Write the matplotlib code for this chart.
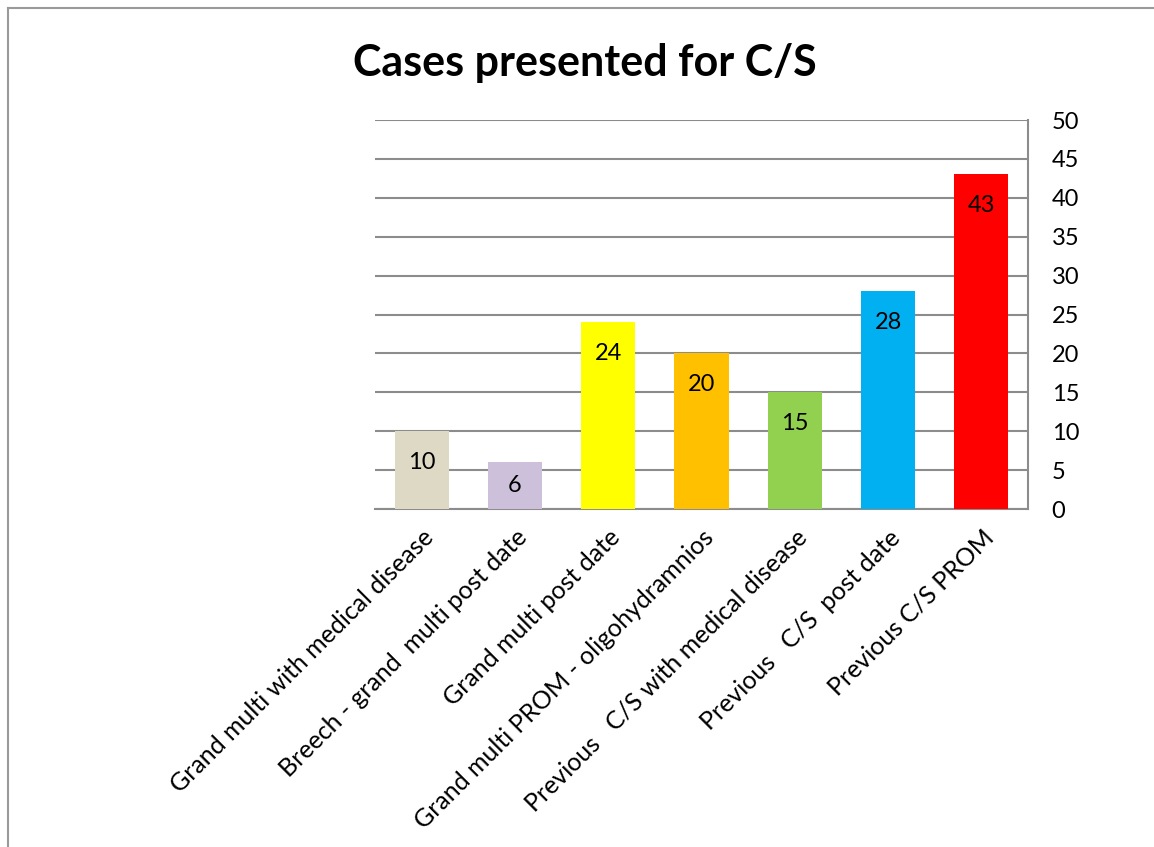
import matplotlib.pyplot as plt
from matplotlib.lines import Line2D

plt.rcParams['font.family'] = ['Lato', 'DejaVu Sans']

# data
categories = ['Grand multi with medical disease', 'Breech - grand  multi post date',
              'Grand multi post date', 'Grand multi PROM - oligohydramnios',
              'Previous   C/S with medical disease', 'Previous   C/S  post date',
              'Previous C/S PROM']
counts = [10, 6, 24, 20, 15, 28, 43]
colors = ['#DDD9C4', '#CCC0DA', '#FFFF00', '#FFC000', '#92D050', '#00B0F0', '#FF0000']
yticks = list(range(0, 51, 5))

fig = plt.figure(figsize=(11.54, 8.47), dpi=100)
W, H = 1154, 847
ax = fig.add_axes([375 / W, 1 - 509 / H, (1028 - 375) / W, (509 - 120) / H])

x = range(len(categories))
ax.bar(x, counts, width=0.58, color=colors, zorder=3)
for i, v in enumerate(counts):
    ax.text(i, max(v - 4, v / 2), str(v), ha='center', va='center', fontsize=17, zorder=4)

ax.set_xlim(-0.5, len(categories) - 0.5)
ax.set_ylim(0, 50)
ax.set_yticks(yticks)
ax.yaxis.tick_right()
ax.tick_params(axis='y', length=0, labelsize=17, pad=17)
for lab in ax.get_yticklabels():
    lab.set_horizontalalignment('left')
ax.grid(axis='y', color='#8C8C8C', linewidth=1.5, zorder=0)
ax.set_xticks(list(x))
ax.set_xticklabels(categories, rotation=45, ha='right', va='top',
                   rotation_mode='anchor', fontsize=18)
ax.tick_params(axis='x', length=0, pad=12)
for s in ['left', 'top']:
    ax.spines[s].set_visible(False)
for s in ['right', 'bottom']:
    ax.spines[s].set_color('#8C8C8C')
    ax.spines[s].set_linewidth(1.5)

fig.text(585 / W, 1 - 63 / H, 'Cases presented for C/S', ha='center', va='center',
         fontsize=31, fontweight='bold')

# frame around the chart area
fig.add_artist(Line2D([8 / W, 1], [1 - 8 / H, 1 - 8 / H], color='#9A9A9A', lw=1.5))
fig.add_artist(Line2D([8 / W, 8 / W], [0, 1 - 8 / H], color='#9A9A9A', lw=1.5))

fig.savefig('out.png', dpi=100)
